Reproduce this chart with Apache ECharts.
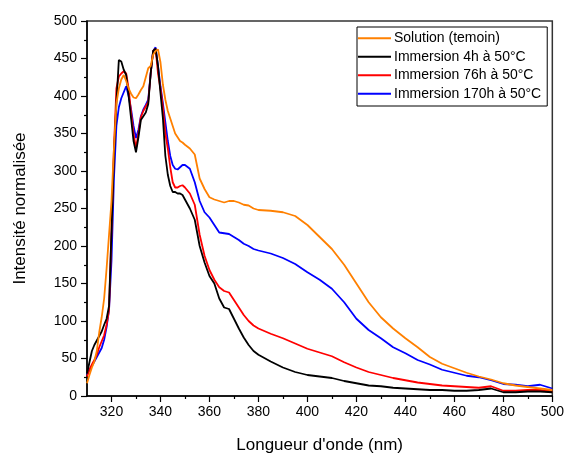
<!DOCTYPE html>
<html>
<head>
<meta charset="utf-8">
<script src="https://cdn.jsdelivr.net/npm/echarts@6/dist/echarts.min.js"></script>
<style>html,body{margin:0;padding:0;background:#fff}#c{width:567px;height:459px}</style>
</head>
<body>
<div id="c"></div>
<script>
const wavelengths = [310,311,312,313,314,315,316,317,318,319,320,321,322,323,324,325,326,327,328,329,330,331,332,333,334,335,336,337,338,339,340,341,342,343,344,345,346,347,348,349,350,352,354,356,358,360,362,364,366,368,370,372,374,376,378,380,385,390,395,400,405,410,415,420,425,430,435,440,445,450,455,460,465,470,475,480,485,490,495,500];
const solution = [17,28,38,46,60,85,105,130,170,215,260,330,390,410,422,428,420,410,403,398,397,402,408,413,425,437,440,455,460,462,445,415,395,380,370,360,350,345,340,338,335,330,322,290,276,265,262,260,258,260,260,258,255,254,250,248,247,245,240,228,212,196,175,150,125,105,90,77,65,52,43,37,31,26,22,17,14,12,10,8];
const imm4h = [30,45,60,68,74,80,86,95,103,120,220,320,390,448,446,435,428,400,370,340,325,345,368,373,378,389,430,460,463,440,404,370,320,295,280,272,272,270,270,268,262,250,235,200,178,160,150,130,118,116,103,90,78,68,60,55,46,38,32,28,26,24,20,17,14,13,11,10,9,8,8,7,7,8,10,5,5,6,6,5];
const imm76h = [26,35,42,48,55,65,73,81,95,115,220,330,410,426,430,433,430,410,378,350,330,350,372,380,386,392,430,460,463,430,410,385,350,330,305,285,278,278,280,281,278,270,255,215,187,168,155,145,140,138,128,118,108,100,94,90,83,77,70,63,58,53,45,38,32,28,24,21,18,16,14,13,12,11,13,7,7,8,8,6];
const imm170h = [28,35,40,46,52,58,64,75,92,115,180,290,360,385,397,405,413,400,382,360,344,355,373,382,388,395,430,460,465,440,413,390,365,340,320,308,303,302,305,308,308,303,285,260,245,238,228,218,217,216,212,208,203,200,196,194,190,184,176,165,155,143,125,103,88,77,65,57,48,42,35,31,27,25,21,16,15,13,15,10];
const seriesNames = ['Solution (temoin)','Immersion 4h à 50°C','Immersion 76h à 50°C','Immersion 170h à 50°C'];
const seriesColors = ['#FF8000','#000000','#FF0000','#0000FF'];
const seriesValues = [solution, imm4h, imm76h, imm170h];
const xMajorTicks = [320,340,360,380,400,420,440,460,480,500];
const xMinorTicks = [330,350,370,390,410,430,450,470,490];

const chart = echarts.init(document.getElementById('c'));
const font = 'Liberation Sans, Arial, sans-serif';
chart.setOption({
  animation: false,
  backgroundColor: '#fff',
  grid: {left: 87, right: 14, top: 21, bottom: 61, show: true, borderColor: '#333', borderWidth: 1.5, backgroundColor: 'transparent'},
  legend: {
    orient: 'vertical', left: 357, top: 27,
    data: seriesNames.map(n => ({name: n, icon: 'rect'})),
    itemWidth: 33, itemHeight: 2, itemGap: 4,
    padding: [4, 6, 5, 1],
    borderColor: '#000', borderWidth: 1,
    textStyle: {fontFamily: font, fontSize: 14, lineHeight: 14.5, color: '#000', padding: [0,0,0,-2]}
  },
  xAxis: [{
    type: 'value', min: 310, max: 500, interval: 10, position: 'bottom',
    name: "Longueur d'onde (nm)", nameLocation: 'middle', nameGap: 41,
    nameTextStyle: {fontFamily: font, fontSize: 17, color: '#000'},
    axisLine: {show: true, onZero: false, lineStyle: {color: '#000', width: 1.5}},
    axisTick: {show: true, inside: false, length: 6, customValues: xMajorTicks, lineStyle: {color: '#000', width: 1.2}},
    splitLine: {show: false},
    axisLabel: {fontFamily: font, fontSize: 14, color: '#000', margin: 9, customValues: xMajorTicks}
  }, {
    type: 'value', min: 310, max: 500, interval: 10, position: 'bottom', gridIndex: 0,
    axisLine: {show: false, onZero: false},
    axisTick: {show: true, inside: false, length: 3, customValues: xMinorTicks, lineStyle: {color: '#000', width: 1.2}},
    splitLine: {show: false},
    axisLabel: {show: false}
  }],
  yAxis: {
    type: 'value', min: 0, max: 500, interval: 50,
    name: 'Intensité normalisée', nameLocation: 'middle', nameGap: 58,
    nameTextStyle: {fontFamily: font, fontSize: 17, color: '#000'},
    axisLine: {show: true, lineStyle: {color: '#000', width: 1.5}},
    axisTick: {show: true, inside: false, length: 6, lineStyle: {color: '#000', width: 1.2}},
    minorTick: {show: true, splitNumber: 2, length: 3, lineStyle: {color: '#000', width: 1.2}},
    splitLine: {show: false},
    axisLabel: {fontFamily: font, fontSize: 14, color: '#000', margin: 10}
  },
  series: seriesValues.map((vals, i) => ({
    name: seriesNames[i],
    type: 'line',
    xAxisIndex: 0,
    symbol: 'none',
    smooth: false,
    color: seriesColors[i],
    lineStyle: {color: seriesColors[i], width: 1.8},
    z: 10 - i,
    data: wavelengths.map((w, k) => [w, vals[k]])
  }))
});
</script>
</body>
</html>
